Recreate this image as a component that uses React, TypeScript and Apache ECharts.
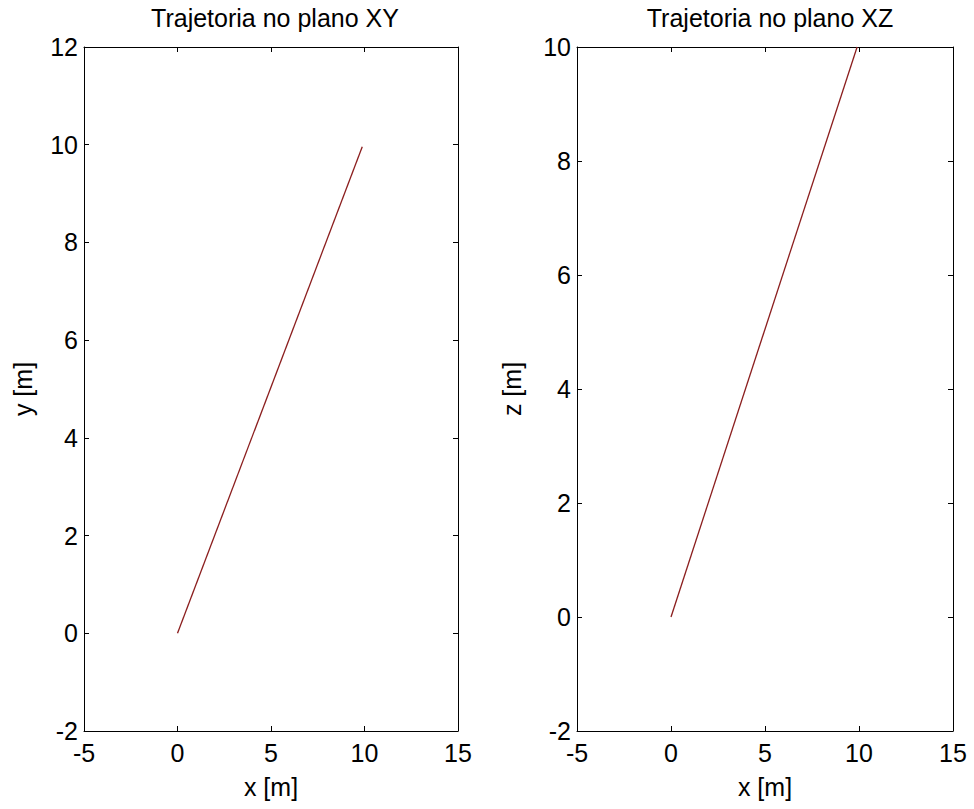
import React, { useEffect, useRef } from "react";
import * as echarts from "echarts";

const titles = ["Trajetoria no plano XY", "Trajetoria no plano XZ"];
const xyX = [0, 9.88];
const xyY = [0, 9.96];
const xzX = [0, 9.9];
const xzZ = [0, 10];
const xTicks = [-5, 0, 5, 10, 15];
const yTicksXY = [-2, 0, 2, 4, 6, 8, 10, 12];
const zTicksXZ = [-2, 0, 2, 4, 6, 8, 10];

const FONT = "Liberation Sans, Arial, sans-serif";
const FS = 25;

export default function App() {
  const ref = useRef<HTMLDivElement>(null);
  useEffect(() => {
    document.body.style.margin = "0";
    const chart = echarts.init(ref.current!, null, { renderer: "svg" });
    const grids = [
      { left: 84, top: 47, width: 374, height: 684 },
      { left: 577, top: 47, width: 376, height: 684 },
    ];
    const axisLine = { show: true, onZero: false, lineStyle: { color: "#000", width: 1 } };
    const tick = { show: true, inside: true, length: 5, lineStyle: { color: "#000" } };
    const lbl = { color: "#000", fontFamily: FONT, fontSize: FS };
    const nameStyle = { color: "#000", fontFamily: FONT, fontSize: FS };
    const xAxes: any[] = [];
    const yAxes: any[] = [];
    [0, 1].forEach((g) => {
      xAxes.push({
        type: "value", gridIndex: g, min: -5, max: 15, interval: 5, position: "bottom",
        axisLine, axisTick: tick, splitLine: { show: false },
        axisLabel: { ...lbl, margin: 9, formatter: (v: number) => (xTicks.includes(v) ? String(v) : "") },
        name: "x [m]", nameLocation: "middle", nameGap: 43, nameTextStyle: nameStyle,
      });
      xAxes.push({
        type: "value", gridIndex: g, min: -5, max: 15, interval: 5, position: "top",
        axisLine, axisTick: tick, axisLabel: { show: false }, splitLine: { show: false },
      });
    });
    const yMax = [12, 10];
    const yNames = ["y [m]", "z [m]"];
    const yGaps = [49, 53];
    const yTickSets = [yTicksXY, zTicksXZ];
    [0, 1].forEach((g) => {
      yAxes.push({
        type: "value", gridIndex: g, min: -2, max: yMax[g], interval: 2, position: "left",
        axisLine, axisTick: tick, splitLine: { show: false },
        axisLabel: { ...lbl, margin: 6, formatter: (v: number) => (yTickSets[g].includes(v) ? String(v) : "") },
        name: yNames[g], nameLocation: "middle", nameGap: yGaps[g], nameTextStyle: nameStyle,
      });
      yAxes.push({
        type: "value", gridIndex: g, min: -2, max: yMax[g], interval: 2, position: "right",
        axisLine, axisTick: tick, axisLabel: { show: false }, splitLine: { show: false },
      });
    });
    const titleStyle = { fontFamily: FONT, fontSize: FS, fontWeight: "normal", color: "#000" };
    chart.setOption({
      animation: false,
      backgroundColor: "#fff",
      title: [
        { text: titles[0], left: 270, top: 0, textAlign: "center", textStyle: titleStyle },
        { text: titles[1], left: 765, top: 0, textAlign: "center", textStyle: titleStyle },
      ],
      grid: grids,
      xAxis: xAxes,
      yAxis: yAxes,
      series: [
        {
          type: "line", xAxisIndex: 0, yAxisIndex: 0, showSymbol: false,
          data: xyX.map((x, i) => [x, xyY[i]]),
          lineStyle: { color: "#8b1e1e", width: 1.3 },
        },
        {
          type: "line", xAxisIndex: 2, yAxisIndex: 2, showSymbol: false,
          data: xzX.map((x, i) => [x, xzZ[i]]),
          lineStyle: { color: "#8b1e1e", width: 1.3 },
        },
      ],
    });
    return () => chart.dispose();
  }, []);
  return <div ref={ref} style={{ width: 974, height: 809 }} />;
}
